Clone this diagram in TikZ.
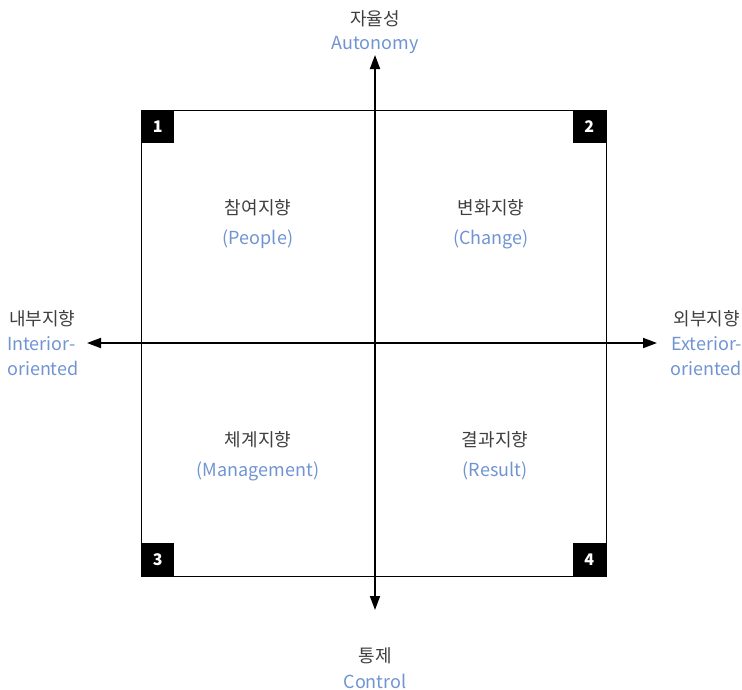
\documentclass[tikz,border=0pt]{standalone}
\usepackage{fontspec}
\setmainfont{Noto Sans CJK KR}
\usetikzlibrary{arrows.meta}
\definecolor{kgray}{HTML}{3F3F3F}
\definecolor{eblue}{HTML}{7094D2}
\tikzset{
  kor/.style={text=kgray, font=\fontsize{18}{20}\selectfont, inner sep=0pt},
  eng/.style={text=eblue, font=\fontsize{18}{20}\selectfont, inner sep=0pt},
  numbox/.style={fill=black, text=white, minimum size=33pt, inner sep=0pt, font=\fontsize{16}{18}\selectfont\bfseries},
  axis/.style={line width=1.8pt, -{Triangle[length=14pt,width=10pt]}},
}
\begin{document}
\begin{tikzpicture}[x=1pt,y=-1pt]
\useasboundingbox (0,0) rectangle (742,689);
\draw[line width=1pt] (141,110) rectangle (606,576);
\node[numbox, anchor=north west] (n1) at (141,110) {1};
\node[numbox, anchor=north east] (n2) at (606,110) {2};
\node[numbox, anchor=south west] (n3) at (141,576) {3};
\node[numbox, anchor=south east] (n4) at (606,576) {4};
\coordinate (c) at (375,343);
\coordinate (top) at (375,55);
\coordinate (bot) at (375,610);
\coordinate (lft) at (87,343);
\coordinate (rgt) at (657,343);
\draw[axis] (c) -- (top);
\draw[axis] (c) -- (bot);
\draw[axis] (c) -- (lft);
\draw[axis] (c) -- (rgt);
\node[kor] (t1) at (375,19) {자율성};
\node[eng] (t2) at (375,45) {Autonomy};
\node[kor] (b1) at (375,656) {통제};
\node[eng] (b2) at (375,681) {Control};
\node[kor, anchor=west] (l1) at (9,319) {내부지향};
\node[eng, anchor=west] (l2) at (7,344) {Interior-};
\node[eng, anchor=west] (l3) at (7,368) {oriented};
\node[kor, anchor=east] (r1) at (740,319) {외부지향};
\node[eng, anchor=east] (r2) at (742,344) {Exterior-};
\node[eng, anchor=east] (r3) at (742,368) {oriented};
\node[kor] (q1a) at (258,208) {참여지향};
\node[eng] (q1b) at (258,239) {(People)};
\node[kor] (q2a) at (491,208) {변화지향};
\node[eng] (q2b) at (491,239) {(Change)};
\node[kor] (q3a) at (258,440) {체계지향};
\node[eng] (q3b) at (258,471) {(Management)};
\node[kor] (q4a) at (495,440) {결과지향};
\node[eng] (q4b) at (495,471) {(Result)};
\end{tikzpicture}
\end{document}
